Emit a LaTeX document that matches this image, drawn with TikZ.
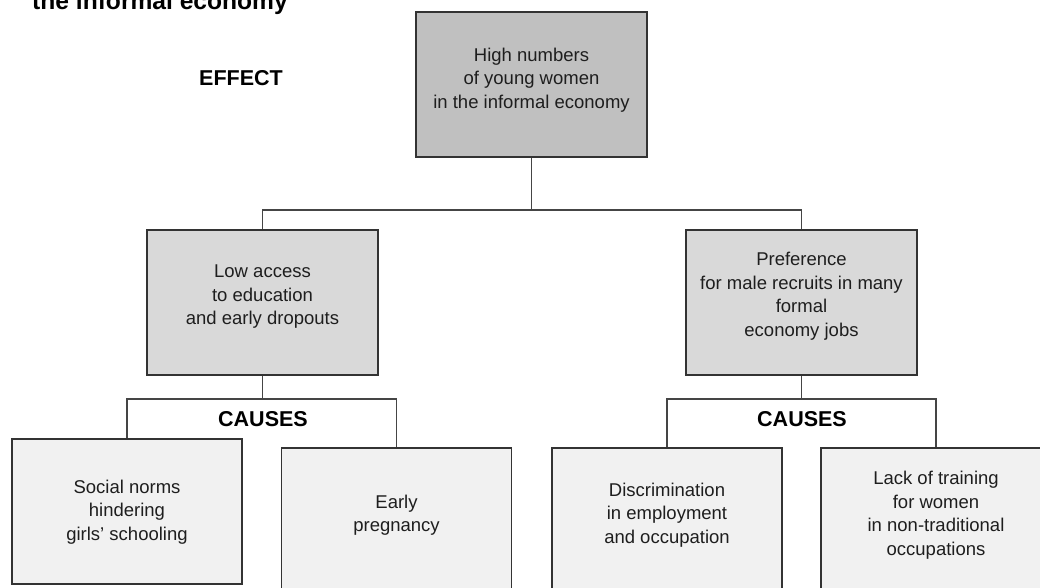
\documentclass[tikz,border=0pt]{standalone}
\usepackage{fontspec}
\setmainfont{Liberation Sans}
\usetikzlibrary{calc}

\definecolor{inkgray}{HTML}{1E1E1E}
\definecolor{edgegray}{HTML}{333333}
\definecolor{linkgray}{HTML}{454545}
\definecolor{effectfill}{HTML}{C0C0C0}
\definecolor{midfill}{HTML}{D9D9D9}
\definecolor{causefill}{HTML}{F1F1F1}

\tikzset{
  box/.style={draw=edgegray, line width=1.5pt, rectangle, inner sep=0pt,
              minimum width=231pt, minimum height=145pt},
  effectbox/.style={box, fill=effectfill},
  midbox/.style={box, fill=midfill},
  causebox/.style={box, fill=causefill, minimum width=230pt},
  boxtext/.style={align=center, text=inkgray, inner sep=0pt,
                  font=\fontsize{18.5}{23.5}\selectfont},
  heading/.style={inner sep=0pt, font=\fontsize{21.5}{26}\selectfont\bfseries},
  link/.style={draw=linkgray, line width=1.6pt},
}

\begin{document}
\begin{tikzpicture}[x=1pt, y=-1pt]
  \clip (0,0) rectangle (1040,588);
  \fill[white] (0,0) rectangle (1040,588);

  % title (partly above the page edge) and level headings
  \node[inner sep=0pt, anchor=base west, font=\fontsize{24.6}{28}\selectfont\bfseries]
    (title) at (32,10) {the informal economy};
  \node[heading] (effectlbl) at (241,78) {EFFECT};

  % effect
  \node[effectbox] (effect) at (531.5,84.5) {};
  \node[boxtext] (effectt) at (531.5,80) {High numbers\\of young women\\in the informal economy};

  % intermediate causes
  \node[midbox] (access) at (262.5,302.5) {};
  \node[boxtext] (accesst) at (262.5,297) {Low access\\to education\\and early dropouts};
  \node[midbox] (pref) at (801.5,302.5) {};
  \node[boxtext] (preft) at (801.5,296) {Preference\\for male recruits in many\\formal\\economy jobs};

  % root causes
  \node[causebox] (norms) at (127,511.5) {};
  \node[boxtext] (normst) at (127,512) {Social norms\\hindering\\girls’ schooling};
  \node[causebox] (preg) at (396.5,520.5) {};
  \node[boxtext] (pregt) at (396.5,515) {Early\\pregnancy};
  \node[causebox] (discr) at (667,520.5) {};
  \node[boxtext] (discrt) at (667,515) {Discrimination\\in employment\\and occupation};
  \node[causebox] (train) at (936,520.5) {};
  \node[boxtext] (traint) at (936,515) {Lack of training\\for women\\in non-traditional\\occupations};

  \node[heading] (causesl) at (263,419) {CAUSES};
  \node[heading] (causesr) at (802,419) {CAUSES};

  % junctions
  \coordinate (jtop) at (531.5,210);
  \coordinate (jleft) at (262.5,399);
  \coordinate (jright) at (801.5,399);

  % connectors
  \draw[link] (effect.south) -- (jtop);
  \draw[link] (access.north) -- (access.north |- jtop) -- (pref.north |- jtop) -- (pref.north);

  \draw[link] (access.south) -- (jleft);
  \draw[link] (norms.north) -- (norms.north |- jleft) -- (preg.north |- jleft) -- (preg.north);

  \draw[link] (pref.south) -- (jright);
  \draw[link] (discr.north) -- (discr.north |- jright) -- (train.north |- jright) -- (train.north);
\end{tikzpicture}
\end{document}
